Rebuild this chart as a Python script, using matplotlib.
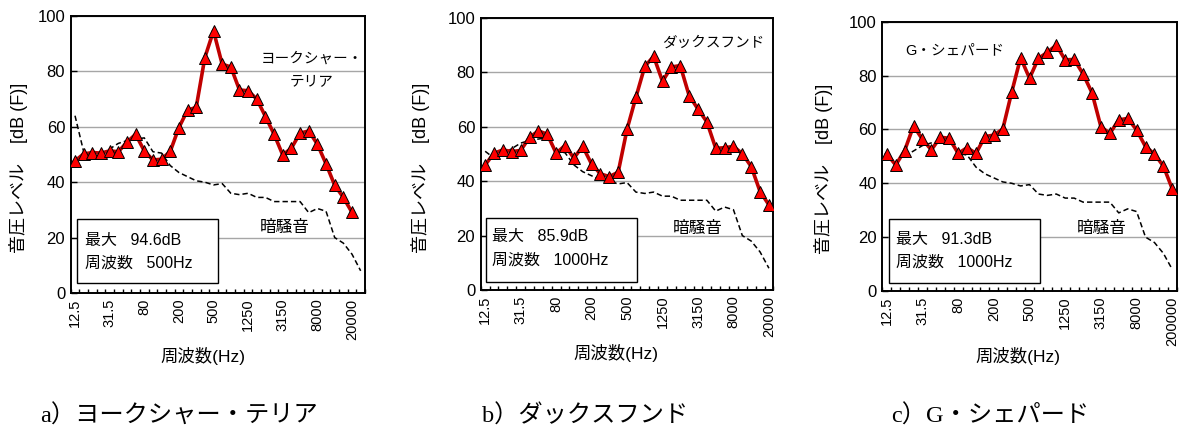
import numpy as np
import matplotlib.pyplot as plt
from matplotlib.patches import Rectangle

plt.rcParams['font.family'] = ['Liberation Sans', 'Noto Sans CJK JP']

# 1/3 octave band centre frequencies (Hz)
bands = ['12.5', '16', '20', '25', '31.5', '40', '50', '63', '80', '100',
         '125', '160', '200', '250', '315', '400', '500', '630', '800', '1000',
         '1250', '1600', '2000', '2500', '3150', '4000', '5000', '6300', '8000',
         '10000', '12500', '16000', '20000']
tick_labels = ['12.5', '31.5', '80', '200', '500', '1250', '3150', '8000', '20000']
tick_labels_c = ['12.5', '31.5', '80', '200', '500', '1250', '3150', '8000', '200000']

# barking levels, dB(F)
yorkie = [47.7, 50.2, 50.7, 50.5, 51.3, 51.0, 54.4, 57.3, 51.3, 48.0,
          48.3, 51.1, 59.7, 66.0, 67.0, 85.0, 94.6, 82.6, 81.6, 73.3,
          73.0, 70.0, 63.7, 57.3, 49.8, 52.3, 57.7, 58.5, 53.7, 46.6,
          38.9, 34.5, 29.1]
dachshund = [46.0, 50.3, 51.5, 50.9, 51.3, 56.1, 58.5, 57.3, 50.3, 53.1,
             48.5, 52.8, 46.3, 42.7, 41.7, 43.3, 59.1, 70.9, 82.2, 85.9,
             76.7, 82.0, 82.5, 71.5, 66.5, 61.8, 52.1, 52.3, 52.8, 50.1,
             45.4, 36.2, 31.3]
shepherd = [50.9, 46.8, 52.1, 61.3, 56.3, 52.4, 57.1, 56.7, 51.1, 53.2,
            51.1, 57.3, 57.9, 60.1, 73.8, 86.6, 79.0, 86.4, 88.6, 91.3,
            85.8, 86.0, 80.6, 73.6, 61.0, 58.5, 63.5, 64.1, 59.8, 53.6,
            50.9, 46.4, 37.9]

# background noise
noise = [51.0, 48.5, 50.0, 52.0, 54.0, 55.0, 55.5, 56.0, 51.0, 50.5,
         46.0, 43.5, 42.0, 40.5, 40.0, 39.0, 39.5, 36.0, 35.5, 36.0,
         34.5, 34.5, 33.0, 33.0, 33.0, 33.0, 29.0, 30.5, 29.5, 20.0,
         18.0, 14.0, 8.0]
noise_a = [64.0] + noise
noise_c = [np.nan, np.nan] + noise[2:]

peaks = [('94.6dB', '500Hz'), ('85.9dB', '1000Hz'), ('91.3dB', '1000Hz')]
names = ['ヨークシャー・\nテリア', 'ダックスフンド', 'G・シェパード']
captions = ['a）ヨークシャー・テリア', 'b）ダックスフンド', 'c）G・シェパード']

fig = plt.figure(figsize=(11.92, 4.32), dpi=100)

panels = [
    dict(rect=[0.0593, 0.3218, 0.2469, 0.6412], level=yorkie, bg=noise_a, ncat=34,
         labels=tick_labels, name_xy=(0.82, 0.805), box=(0.021, 0.036, 0.479, 0.231),
         txt_x=0.049, txt_y=(0.19, 0.108), bg_xy=(0.728, 0.235),
         ylab=(-0.145, 0.45), xlab=(0.45, -0.195), cap_x=0.034),
    dict(rect=[0.4033, 0.3287, 0.2455, 0.6296], level=dachshund, bg=noise, ncat=33,
         labels=tick_labels, name_xy=(0.794, 0.908), box=(0.018, 0.029, 0.517, 0.236),
         txt_x=0.038, txt_y=(0.195, 0.11), bg_xy=(0.743, 0.228),
         ylab=(-0.173, 0.45), xlab=(0.462, -0.2), cap_x=0.404),
    dict(rect=[0.7402, 0.3264, 0.2470, 0.6234], level=shepherd, bg=noise_c, ncat=33,
         labels=tick_labels_c, name_xy=(0.247, 0.895), box=(0.023, 0.03, 0.513, 0.237),
         txt_x=0.047, txt_y=(0.193, 0.108), bg_xy=(0.746, 0.234),
         ylab=(-0.167, 0.452), xlab=(0.461, -0.208), cap_x=0.748),
]

for p, peak, name, cap in zip(panels, peaks, names, captions):
    ax = fig.add_axes(p['rect'])
    n = p['ncat']
    ax.set_xlim(-0.5, n - 0.5)
    ax.set_ylim(0, 100)

    ax.yaxis.grid(True, color='#a6a6a6', linewidth=1)
    ax.set_axisbelow(True)

    ax.plot(np.arange(len(p['bg'])), p['bg'], color='black', lw=1.1,
            linestyle=(0, (3.5, 2)), zorder=2)
    ax.plot(np.arange(len(p['level'])), p['level'], color='#c00000', lw=2.6,
            marker='^', ms=8, mfc='#ff0000', mec='black', mew=0.7, zorder=3)

    for s in ax.spines.values():
        s.set_linewidth(1.4)

    ax.set_yticks(np.arange(0, 101, 20))
    ax.tick_params(axis='y', direction='in', length=4, width=1, labelsize=12, pad=4)
    ax.set_xticks(np.arange(0, 33, 4))
    ax.set_xticklabels(p['labels'], rotation=90, fontsize=10.5)
    ax.set_xticks(np.arange(-0.5, n, 1), minor=True)
    ax.tick_params(axis='x', which='major', length=0, pad=4)
    ax.tick_params(axis='x', which='minor', direction='in', length=3, width=1)

    ax.set_ylabel('音圧レベル    [dB (F)]', fontsize=13)
    ax.yaxis.set_label_coords(*p['ylab'])
    ax.set_xlabel('周波数(Hz)', fontsize=12.5)
    ax.xaxis.set_label_coords(*p['xlab'])

    bx, by, bw, bh = p['box']
    ax.add_patch(Rectangle((bx, by), bw, bh, transform=ax.transAxes,
                           facecolor='white', edgecolor='black', lw=1, zorder=4))
    ax.text(p['txt_x'], p['txt_y'][0], '最大   ' + peak[0], transform=ax.transAxes,
            fontsize=11.5, va='center', zorder=5)
    ax.text(p['txt_x'], p['txt_y'][1], '周波数   ' + peak[1], transform=ax.transAxes,
            fontsize=11.5, va='center', zorder=5)

    ax.text(*p['name_xy'], name, transform=ax.transAxes, fontsize=10.5,
            ha='center', va='center', linespacing=1.75)
    ax.text(*p['bg_xy'], '暗騒音', transform=ax.transAxes, fontsize=12,
            ha='center', va='center')

    fig.text(p['cap_x'], 0.037, cap, fontsize=17.5, va='center',
             family=['Liberation Serif', 'Noto Sans CJK JP'])

fig.savefig('out.png', dpi=100)
